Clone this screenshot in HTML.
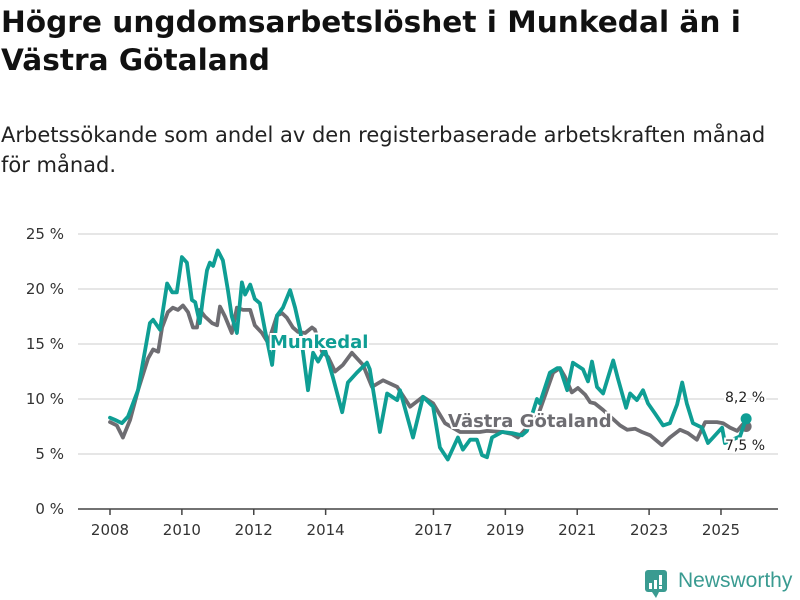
<!DOCTYPE html>
<html><head><meta charset="utf-8">
<style>
body{margin:0;width:800px;height:600px;background:#fff;overflow:hidden;font-family:"DejaVu Sans","Liberation Sans",sans-serif;color:#111}
#title{position:absolute;left:1px;top:3px;font-size:29.6px;font-weight:bold;line-height:38px;width:800px;white-space:nowrap}
#sub{position:absolute;left:1px;top:120px;font-size:21px;line-height:30px;color:#222;width:800px;white-space:nowrap}
svg{position:absolute;left:0;top:0}
</style></head><body>
<div id="title">Högre ungdomsarbetslöshet i Munkedal än i<br>Västra Götaland</div>
<div id="sub">Arbetssökande som andel av den registerbaserade arbetskraften månad<br>för månad.</div>
<svg id="chart" width="800" height="600"></svg>
<script>
const yTicks=[0,5,10,15,20,25];
const xTickYears=[2008,2010,2012,2014,2017,2019,2021,2023,2025];
const munkYears=[2008.00,2008.14,2008.33,2008.50,2008.78,2009.11,2009.20,2009.39,2009.59,2009.73,2009.86,2010.00,2010.14,2010.28,2010.37,2010.50,2010.59,2010.70,2010.78,2010.87,2011.00,2011.14,2011.28,2011.39,2011.53,2011.67,2011.76,2011.90,2012.03,2012.17,2012.31,2012.51,2012.65,2012.81,2013.01,2013.15,2013.29,2013.51,2013.65,2013.79,2013.98,2014.20,2014.46,2014.62,2014.87,2015.15,2015.23,2015.51,2015.71,2015.99,2016.07,2016.43,2016.71,2016.99,2017.18,2017.40,2017.68,2017.82,2018.02,2018.21,2018.35,2018.49,2018.63,2018.91,2019.19,2019.46,2019.60,2019.88,2019.96,2020.24,2020.44,2020.52,2020.72,2020.88,2021.16,2021.30,2021.41,2021.55,2021.72,2022.00,2022.13,2022.36,2022.47,2022.66,2022.83,2022.97,2023.16,2023.39,2023.58,2023.78,2023.92,2024.05,2024.22,2024.47,2024.64,2024.78,2025.03,2025.11,2025.53,2025.70];
const munkVals=[8.3,8.1,7.8,8.4,10.8,16.9,17.2,16.3,20.5,19.7,19.7,22.9,22.4,19.0,18.8,16.9,19.3,21.7,22.4,22.1,23.5,22.6,19.9,17.5,16.0,20.6,19.5,20.4,19.1,18.7,16.3,13.1,17.6,18.3,19.9,18.3,16.3,10.8,14.2,13.4,14.5,12.0,8.8,11.5,12.4,13.3,12.7,7.0,10.5,9.9,10.8,6.5,10.2,9.3,5.6,4.5,6.5,5.4,6.3,6.3,4.9,4.7,6.5,7.0,6.9,6.7,7.1,10.0,9.6,12.4,12.8,12.8,10.8,13.3,12.7,11.6,13.4,11.1,10.5,13.5,11.9,9.2,10.5,9.9,10.8,9.6,8.7,7.6,7.8,9.5,11.5,9.6,7.8,7.4,6.0,6.5,7.4,6.0,6.6,8.2];
const vgYears=[2008.00,2008.19,2008.36,2008.56,2008.78,2009.06,2009.20,2009.34,2009.45,2009.61,2009.75,2009.89,2010.03,2010.17,2010.31,2010.42,2010.50,2010.64,2010.84,2010.98,2011.06,2011.20,2011.39,2011.53,2011.70,2011.90,2012.03,2012.23,2012.40,2012.65,2012.79,2012.92,2013.09,2013.23,2013.43,2013.62,2013.70,2013.90,2014.07,2014.26,2014.48,2014.73,2015.04,2015.29,2015.60,2015.99,2016.35,2016.71,2016.99,2017.32,2017.74,2018.29,2018.49,2018.93,2019.19,2019.35,2019.49,2019.91,2020.33,2020.52,2020.66,2020.85,2021.02,2021.22,2021.36,2021.49,2021.72,2022.19,2022.39,2022.61,2022.80,2023.03,2023.36,2023.58,2023.86,2024.08,2024.33,2024.56,2024.89,2025.06,2025.25,2025.45,2025.61,2025.70];
const vgVals=[7.9,7.6,6.5,8.1,10.8,13.7,14.5,14.3,16.5,17.9,18.3,18.1,18.5,17.9,16.5,16.5,18.1,17.5,16.9,16.7,18.4,17.5,16.0,18.3,18.1,18.1,16.7,16.0,15.1,17.6,17.8,17.4,16.5,16.1,16.0,16.5,16.3,14.3,13.8,12.5,13.1,14.2,13.1,11.1,11.7,11.1,9.3,10.2,9.6,7.8,7.0,7.0,7.1,7.0,6.8,6.5,7.0,8.5,12.4,12.8,12.0,10.6,11.0,10.4,9.7,9.6,9.0,7.6,7.2,7.3,7.0,6.7,5.8,6.5,7.2,6.9,6.3,7.9,7.9,7.8,7.4,7.1,7.7,7.5];
const NS='http://www.w3.org/2000/svg';
const svg=document.getElementById('chart');
const x=t=>110+(t-2008)*35.94;
const y=v=>509-v*11;
function mk(tag,attrs,parent){const e=document.createElementNS(NS,tag);for(const k in attrs)e.setAttribute(k,attrs[k]);(parent||svg).appendChild(e);return e;}
yTicks.forEach(v=>{
  if(v>0){const g=mk('line',{x1:78,x2:778,y1:y(v),y2:y(v),stroke:'#ddd','stroke-width':1.5});
  
  }
  const t=mk('text',{x:64,y:y(v)+5,'text-anchor':'end','font-size':15,fill:'#333','font-family':'DejaVu Sans,sans-serif'});
  t.textContent=v+' %';
  
  
});
const ax=mk('line',{x1:78,x2:778,y1:509,y2:509,stroke:'#444','stroke-width':1.5});


xTickYears.forEach(yr=>{
  const tk=mk('line',{x1:x(yr),x2:x(yr),y1:509,y2:515,stroke:'#444','stroke-width':1.5});
  
  
  const t=mk('text',{x:x(yr),y:535,'text-anchor':'middle','font-size':15,fill:'#333','font-family':'DejaVu Sans,sans-serif'});
  t.textContent=yr;
  
  
});
function line(ys,vs,col,name){
  const d=ys.map((t,i)=>(i?'L':'M')+x(t).toFixed(1)+','+y(vs[i]).toFixed(1)).join('');
  const p=mk('path',{d:d,fill:'none',stroke:col,'stroke-width':3.8,'stroke-linejoin':'round','stroke-linecap':'round'});
  
  
  const n=ys.length-1;
  const c=mk('circle',{cx:x(ys[n]),cy:y(vs[n]),r:5.5,fill:col});
  
  
}
line(vgYears,vgVals,'#6e6d72','vastra-gotaland-line');
line(munkYears,munkVals,'#0f9e94','munkedal-line');
function lab(tx,xx,yy,col,sz,w,name,anchor){
  const t=mk('text',{x:xx,y:yy,fill:col,'font-size':sz,'font-weight':w,'font-family':'DejaVu Sans,sans-serif',stroke:'#fff','stroke-width':4,'paint-order':'stroke','text-anchor':anchor||'start'});
  t.textContent=tx;
  
  
}
lab('Munkedal',270,348,'#0f9e94',18,'bold','munkedal-label');
lab('Västra Götaland',448,427,'#6e6d72',18,'bold','vastra-gotaland-label');
lab('8,2 %',725,402,'#222',14,'normal','munkedal-last-value');
lab('7,5 %',725,450,'#222',14,'normal','vastra-gotaland-last-value');
</script>
<div style="position:absolute;left:645px;top:570px;height:30px;">
<svg width="24" height="30" style="position:absolute;left:0;top:0"><rect x="0" y="0" width="22" height="22" rx="3" fill="#3a9b91"/><path d="M7,22 L11,28 L14,22Z" fill="#3a9b91"/><rect x="4" y="13" width="3" height="6" fill="#fff"/><rect x="9" y="10" width="3" height="9" fill="#fff"/><rect x="14" y="5" width="3" height="10" fill="#fff"/><rect x="14" y="16" width="3" height="3" fill="#fff"/></svg>
<span style="position:absolute;left:33px;top:-1px;font-family:'Liberation Sans',sans-serif;font-size:21px;color:#3a9b91;white-space:nowrap">Newsworthy</span>
</div>
</body></html>
